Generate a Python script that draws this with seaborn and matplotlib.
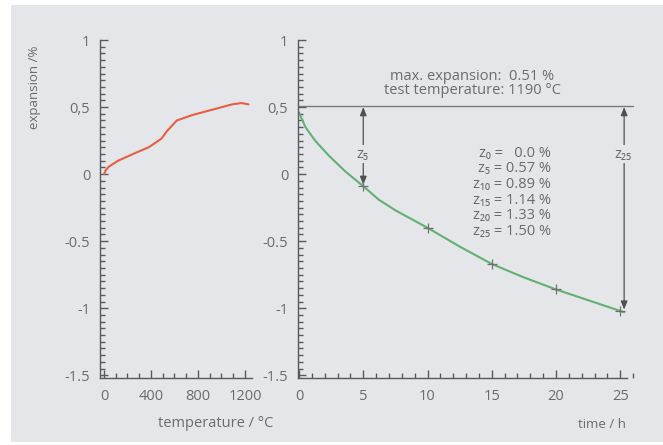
import numpy as np
import pandas as pd
import matplotlib
matplotlib.use("Agg")
import matplotlib.pyplot as plt
from matplotlib.patches import Rectangle
from matplotlib.ticker import MultipleLocator, FixedLocator, FixedFormatter
import seaborn as sns

# ---------------- data ----------------
temp_c = [0, 15, 40, 120, 260, 380, 490, 535, 620, 750, 920, 1090, 1170, 1230]
temp_expansion = [0.0, 0.03, 0.055, 0.10, 0.155, 0.20, 0.265, 0.32, 0.40, 0.44, 0.48, 0.52, 0.53, 0.52]

time_h = [0, 0.5, 1.25, 2.3, 3.6, 5, 6.2, 7.5, 10, 12.5, 15, 17.5, 20, 22.5, 25.3]
time_expansion = [0.46, 0.35, 0.25, 0.14, 0.02, -0.09, -0.19, -0.27, -0.40, -0.54, -0.67, -0.77, -0.86, -0.94, -1.03]

mark_h = [5, 10, 15, 20, 25]
mark_expansion = [-0.09, -0.40, -0.67, -0.86, -1.02]

max_expansion = 0.51
test_temperature = 1190
z_names = ["z\u2080", "z\u2085", "z\u2081\u2080", "z\u2081\u2085", "z\u2082\u2080", "z\u2082\u2085"]
z_values = [0.0, 0.57, 0.89, 1.14, 1.33, 1.50]

y_ticks = [-1.5, -1, -0.5, 0, 0.5, 1]
y_ticklabels = ["-1.5", "-1", "-0.5", "0", "0,5", "1"]
temp_ticks = [0, 400, 800, 1200]
time_ticks = [0, 5, 10, 15, 20, 25]

# ---------------- style ----------------
sns.set_style("ticks")
FAM = ["Open Sans", "DejaVu Sans"]
plt.rcParams["font.family"] = FAM
TXT = "#6b6b6b"
AXC = "#595959"
BG = "#e4e6ea"
RED = "#e4603e"
GREEN = "#62b072"
FS = 10.5

fig = plt.figure(figsize=(6.63, 4.45), dpi=100)
fig.patch.set_facecolor("white")
fig.patches.append(Rectangle((11 / 663, 3 / 445), (663 - 11) / 663, (440 - 3) / 445,
                             transform=fig.transFigure, facecolor=BG, edgecolor="none", zorder=-10))

ax1 = fig.add_axes([100 / 663, 67 / 445, 152 / 663, 338 / 445])
ax2 = fig.add_axes([298 / 663, 67 / 445, 337.7 / 663, 338 / 445])

# ---- left: expansion vs temperature ----
df_t = pd.DataFrame({"temperature": temp_c, "expansion": temp_expansion})
sns.lineplot(data=df_t, x="temperature", y="expansion", ax=ax1, color=RED, lw=1.5, sort=False)

# ---- right: expansion vs time ----
df_h = pd.DataFrame({"time": time_h, "expansion": time_expansion})
sns.lineplot(data=df_h, x="time", y="expansion", ax=ax2, color=GREEN, lw=1.5, sort=False)
df_m = pd.DataFrame({"time": mark_h, "expansion": mark_expansion})
sns.scatterplot(data=df_m, x="time", y="expansion", ax=ax2, marker="+", s=45,
                color="#707070", linewidth=0.9, zorder=4)

for ax in (ax1, ax2):
    ax.set_facecolor("none")
    for s in ("top", "right"):
        ax.spines[s].set_visible(False)
    for s in ("left", "bottom"):
        ax.spines[s].set_color(AXC)
        ax.spines[s].set_linewidth(1.0)
    ax.set_ylim(-1.52, 1.0)
    ax.yaxis.set_major_locator(FixedLocator(y_ticks))
    ax.yaxis.set_major_formatter(FixedFormatter(y_ticklabels))
    ax.yaxis.set_minor_locator(MultipleLocator(0.05))

ax1.set_xlim(-34, 1260)
ax1.xaxis.set_major_locator(FixedLocator(temp_ticks))
ax1.xaxis.set_minor_locator(MultipleLocator(100))
ax2.set_xlim(-0.08, 26.2)
ax2.spines["bottom"].set_bounds(-0.08, 25.5)
ax2.xaxis.set_major_locator(FixedLocator(time_ticks))
ax2.xaxis.set_minor_locator(MultipleLocator(1))

for ax in (ax1, ax2):
    ax.xaxis.set_tick_params(which="major", direction="in", length=5.5, width=1.0,
                             color=AXC, labelcolor=TXT, labelsize=FS, pad=8)
    ax.yaxis.set_tick_params(which="major", direction="in", length=5.5, width=1.0,
                             color=AXC, labelcolor=TXT, labelsize=FS, pad=7)
    ax.xaxis.set_tick_params(which="minor", direction="in", length=3.5, width=1.0, color=AXC)
    ax.yaxis.set_tick_params(which="minor", direction="in", length=3.5, width=1.0, color=AXC)

ax1.set_xlabel("temperature / \u00b0C", color=TXT, fontsize=FS)
ax1.xaxis.set_label_coords(0.76, -0.112)
ax1.set_ylabel("expansion /%", color=TXT, fontsize=9.5)
ax1.yaxis.set_label_coords(-0.39, 0.86)

ax2.set_xlabel("time / h", color=TXT, fontsize=9.5, ha="right")
ax2.xaxis.set_label_coords(0.97, -0.118)
ax2.set_ylabel("")

# max expansion line
ax2.plot([0, 26.0], [max_expansion, max_expansion], color="#7a7a7a", lw=1.0, clip_on=False, zorder=3)
ax2.text(13.5, 0.73, f"max. expansion:  {max_expansion:.2f} %", ha="center", va="center",
         color=TXT, fontsize=FS)
ax2.text(13.5, 0.62, f"test temperature: {test_temperature} \u00b0C", ha="center", va="center",
         color=TXT, fontsize=FS)

# arrows z5, z25
arrow_kw = dict(arrowstyle="-|>,head_length=0.5,head_width=0.2", color="#505050", lw=0.9,
                shrinkA=0, shrinkB=0)
for xa, ya in ((mark_h[0], mark_expansion[0]), (25.3, mark_expansion[-1])):
    ax2.annotate("", xy=(xa, ya + 0.01), xytext=(xa, 0.15), arrowprops=arrow_kw,
                 zorder=3, annotation_clip=False)
    ax2.annotate("", xy=(xa, max_expansion - 0.01), xytext=(xa, 0.15), arrowprops=arrow_kw,
                 zorder=3, annotation_clip=False)
bbox = dict(facecolor=BG, edgecolor="none", pad=1.0)
ax2.text(mark_h[0] - 0.1, 0.15, z_names[1], ha="center", va="center", color=TXT, fontsize=FS,
         bbox=bbox, zorder=5)
ax2.text(25.2, 0.15, z_names[-1], ha="center", va="center", color=TXT, fontsize=FS,
         bbox=bbox, zorder=5)

# z value block
for i, (n, v) in enumerate(zip(z_names, z_values)):
    val = f"{v:.1f}" if v == 0 else f"{v:.2f}"
    pad = "  " if v == 0 else ""
    ax2.text(19.6, 0.155 - 0.116 * i, f"{n} = {pad}{val} %", ha="right", va="center",
             color=TXT, fontsize=FS)

fig.savefig("out.png", dpi=100)
